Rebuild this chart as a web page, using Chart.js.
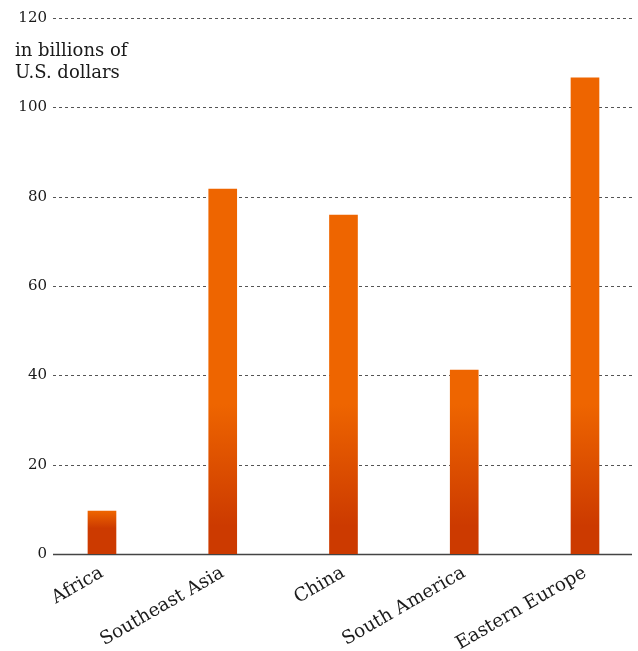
<!DOCTYPE html>
<html>
<head>
<meta charset="utf-8">
<script src="https://cdn.jsdelivr.net/npm/chart.js"></script>
<style>
  html, body { margin: 0; padding: 0; background: #fff; overflow: hidden; }
  .wrap { position: relative; width: 638px; height: 651px; }
  .unit {
    position: absolute; left: 15px; top: 39px;
    font-family: "DejaVu Serif", serif; font-size: 18px; line-height: 22px; color: #1a1a1a;
  }
</style>
</head>
<body>
<div class="wrap">
  <canvas id="chart"></canvas>
  <div class="unit">in billions of<br>U.S. dollars</div>
</div>
<script>
const regions = ["Africa", "Southeast Asia", "China", "South America", "Eastern Europe"];
const investment = [9.6, 81.7, 75.9, 41.2, 106.6];
const yTicks = [0, 20, 40, 60, 80, 100, 120];

const ORANGE = "#ee6500";
const DARK = "#cc3a00";

function barFill(ctx) {
  const chart = ctx.chart;
  const y = chart.scales.y;
  if (!y || ctx.parsed == null) return ORANGE;
  const base = y.getPixelForValue(0);
  const top = y.getPixelForValue(ctx.parsed.y);
  const len = Math.min(base - top, 150);
  if (!(len > 0)) return ORANGE;
  const g = chart.ctx.createLinearGradient(0, base, 0, base - len);
  g.addColorStop(0, DARK);
  g.addColorStop(Math.min(0.6, 28 / len), DARK);
  g.addColorStop(1, ORANGE);
  return g;
}

// dotted gridlines + solid baseline, positioned from the y scale
const gridPlugin = {
  id: "grid",
  beforeDatasetsDraw(chart) {
    const c = chart.ctx;
    const y = chart.scales.y;
    c.save();
    yTicks.forEach(v => {
      const py = Math.round(y.getPixelForValue(v)) + 0.5;
      c.beginPath();
      if (v === 0) {
        c.setLineDash([]);
        c.strokeStyle = "#444";
        c.lineWidth = 1.5;
      } else {
        c.setLineDash([3, 3]);
        c.strokeStyle = "#555";
        c.lineWidth = 1;
      }
      c.moveTo(53, py);
      c.lineTo(632, py);
      c.stroke();
    });
    c.restore();
  }
};

new Chart(document.getElementById("chart"), {
  type: "bar",
  data: {
    datasets: [{
      data: investment.map((v, i) => ({ x: i, y: v })),
      backgroundColor: barFill,
      barThickness: 28,
      borderWidth: 0
    }]
  },
  options: {
    responsive: true,
    maintainAspectRatio: false,
    animation: false,
    layout: { padding: { top: 18, right: 0, left: 0, bottom: 0 } },
    plugins: { legend: { display: false }, tooltip: { enabled: false } },
    scales: {
      x: {
        type: "linear",
        offset: false,
        min: -0.447,
        max: 4.439,
        grid: { display: false },
        border: { display: false },
        afterFit(scale) { scale.height = 97; },
        afterBuildTicks(scale) { scale.ticks = regions.map((r, i) => ({ value: i })); },
        ticks: {
          autoSkip: false,
          minRotation: 30,
          maxRotation: 30,
          padding: 0,
          color: "#1a1a1a",
          font: { family: "DejaVu Serif", size: 18.5 },
          callback: v => regions[v]
        }
      },
      y: {
        min: 0,
        max: 120,
        afterFit(scale) { scale.width = 48; },
        grid: { display: false, drawTicks: false },
        border: { display: false },
        afterBuildTicks(scale) { scale.ticks = yTicks.map(v => ({ value: v })); },
        ticks: {
          padding: 1,
          color: "#1a1a1a",
          font: { family: "DejaVu Serif", size: 15 }
        }
      }
    }
  },
  plugins: [gridPlugin]
});
</script>
</body>
</html>
